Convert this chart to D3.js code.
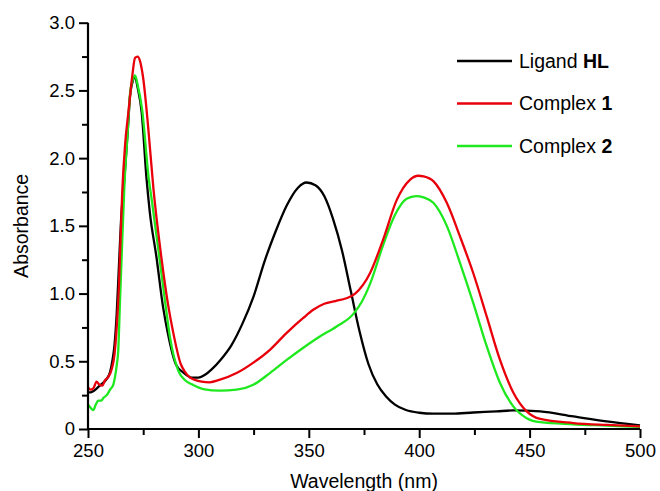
<!DOCTYPE html>
<html><head><meta charset="utf-8">
<script src="https://cdn.jsdelivr.net/npm/d3@7/dist/d3.min.js"></script>
<style>
html,body{margin:0;padding:0;background:#fff;}
svg{display:block;font-family:"Liberation Sans",Arial,Helvetica,sans-serif;}
</style></head>
<body><svg id="chart" width="660" height="491"></svg>
<script>
// ---- data (wavelength nm, absorbance) ----
const seriesNames = ["Ligand ", "Complex ", "Complex "];
const seriesBold = ["HL", "1", "2"];
const seriesColors = ["#000000", "#e8000b", "#1ee81e"];

const ligandWl = [250,251,252.5,254,256,258,260,261,262,263,264,265,266.5,268,269,270.3,271.3,272.5,274.3,276.5,278,281,284,286,290,293,297,300,303,306,310,315,320,325,330,335,340,345,349,353,357,361,365,369,373,377,381,385,389,394,400,406.4,415,424.5,435,442.6,454.8,469.8,484.9,500];
const ligandAbs = [0.27,0.27,0.28,0.30,0.33,0.36,0.42,0.50,0.62,0.85,1.2,1.55,1.85,2.2,2.45,2.57,2.60,2.52,2.34,1.85,1.6,1.27,0.9,0.72,0.47,0.42,0.38,0.38,0.40,0.44,0.51,0.62,0.78,0.98,1.24,1.46,1.65,1.78,1.82,1.80,1.72,1.55,1.32,1.02,0.72,0.48,0.33,0.24,0.18,0.14,0.12,0.113,0.113,0.122,0.13,0.137,0.13,0.093,0.056,0.027];

const complex1Wl = [250,251,252.4,253.9,255,256.5,257.7,259,260.7,262,263,264,265.5,266.8,268.3,270,271.3,272.5,273.5,275,277.3,279.6,283.2,286.4,288.5,292,294,296.2,301.5,305,309.8,317.3,324.9,332.4,340,347.5,352,357,362,367,371,377.7,383.7,389.8,395.8,399.6,402,406.4,412.5,418.5,424.5,430.6,436.6,442.6,448.7,454.8,469.8,484.9,500];
const complex1Abs = [0.31,0.29,0.30,0.35,0.33,0.32,0.36,0.38,0.44,0.55,0.75,1.05,1.75,2.10,2.34,2.6,2.74,2.75,2.72,2.59,2.22,1.78,1.27,0.905,0.72,0.48,0.42,0.38,0.35,0.345,0.364,0.413,0.49,0.585,0.71,0.82,0.88,0.925,0.945,0.965,1.0,1.15,1.40,1.69,1.84,1.87,1.865,1.83,1.67,1.42,1.15,0.83,0.51,0.27,0.13,0.074,0.044,0.03,0.02];

const complex2Wl = [250,251,252.4,253.5,254.7,256,257,258.5,260,261.5,262.3,263,263.7,264.5,265.3,266.5,268,269,270.3,271.3,272.5,274.5,277.5,278.8,282.3,285.2,287.1,290.9,294,297,302.2,309.8,317.3,324.9,332.4,340,347.5,355,362.6,370.2,374,377.7,383.7,389,394.3,398.6,402,406.4,412.5,418.5,424.5,430.6,436.6,442.6,448.7,454.8,469.8,484.9,500];
const complex2Abs = [0.18,0.16,0.14,0.18,0.21,0.21,0.23,0.25,0.29,0.33,0.39,0.47,0.58,0.95,1.3,1.80,2.2,2.47,2.58,2.61,2.54,2.36,1.85,1.70,1.27,0.905,0.68,0.43,0.36,0.33,0.295,0.283,0.29,0.327,0.413,0.51,0.6,0.683,0.757,0.85,0.94,1.07,1.36,1.58,1.70,1.72,1.71,1.67,1.5,1.225,0.93,0.61,0.34,0.167,0.08,0.05,0.035,0.025,0.015];

const xMajorTicks = [250,300,350,400,450,500];
const xMinorTicks = [275,325,375,425,475];
const yMajorTicks = [0,0.5,1.0,1.5,2.0,2.5,3.0];
const yMinorTicks = [0.25,0.75,1.25,1.75,2.25,2.75];
const xTitle = "Wavelength (nm)";
const yTitle = "Absorbance";

// ---- drawing ----
const svg = d3.select("#chart");
const x = d3.scaleLinear().domain([250,500]).range([88,640]);
const y = d3.scaleLinear().domain([0,3]).range([429,22.7]);

const seriesData = [
  d3.zip(ligandWl, ligandAbs),
  d3.zip(complex1Wl, complex1Abs),
  d3.zip(complex2Wl, complex2Abs)
];

const line = d3.line().x(d=>x(d[0])).y(d=>y(d[1])).curve(d3.curveMonotoneX);

const order = [0,2,1];
order.forEach(i=>{
  svg.append("path").datum(seriesData[i])
    .attr("d", line).attr("fill","none")
    .attr("stroke", seriesColors[i]).attr("stroke-width", 2.3)
    .attr("stroke-linejoin","round");
});

// axes
const fs = 18.5;
const xAxis = svg.append("g").attr("transform",`translate(0,${y(0)})`)
  .call(d3.axisBottom(x).tickValues(xMajorTicks).tickSize(9).tickPadding(6).tickFormat(d3.format("d")));
const xMinor = svg.append("g").attr("transform",`translate(0,${y(0)})`)
  .call(d3.axisBottom(x).tickValues(xMinorTicks).tickSize(6).tickFormat(""));
const yAxis = svg.append("g").attr("transform",`translate(${x(250)},0)`)
  .call(d3.axisLeft(y).tickValues(yMajorTicks).tickSize(9).tickPadding(4).tickFormat(d=>d===0?"0":d.toFixed(1)));
const yMinor = svg.append("g").attr("transform",`translate(${x(250)},0)`)
  .call(d3.axisLeft(y).tickValues(yMinorTicks).tickSize(6).tickFormat(""));
xMinor.select(".domain").remove();
yMinor.select(".domain").remove();

svg.selectAll(".domain").attr("stroke","#000").attr("stroke-width",2.2);
svg.selectAll(".tick line").attr("stroke","#000").attr("stroke-width",2);
svg.selectAll(".tick text").attr("font-size",fs).attr("fill","#000")
  .attr("font-family","Liberation Sans, Arial, sans-serif");
xAxis.select(".domain").attr("d",`M${x(250)},0H${x(500)}`);
yAxis.select(".domain").attr("d",`M0,${y(0)}V${y(3)}`);

svg.append("text").attr("x",(x(250)+x(500))/2).attr("y",488)
  .attr("text-anchor","middle").attr("font-size",19.5).text(xTitle);
svg.append("text").attr("transform",`translate(28,${(y(0)+y(3))/2}) rotate(-90)`)
  .attr("text-anchor","middle").attr("font-size",19.5).text(yTitle);

// legend
const legend = svg.append("g");
seriesNames.forEach((n,i)=>{
  const cy = 61 + i*42.5;
  legend.append("line").attr("x1",457).attr("x2",512).attr("y1",cy).attr("y2",cy)
    .attr("stroke",seriesColors[i]).attr("stroke-width",2.3);
  const t = legend.append("text").attr("x",519).attr("y",cy+6.5).attr("font-size",19.5);
  t.append("tspan").text(n);
  t.append("tspan").attr("font-weight","bold").text(seriesBold[i]);
});
</script></body></html>
